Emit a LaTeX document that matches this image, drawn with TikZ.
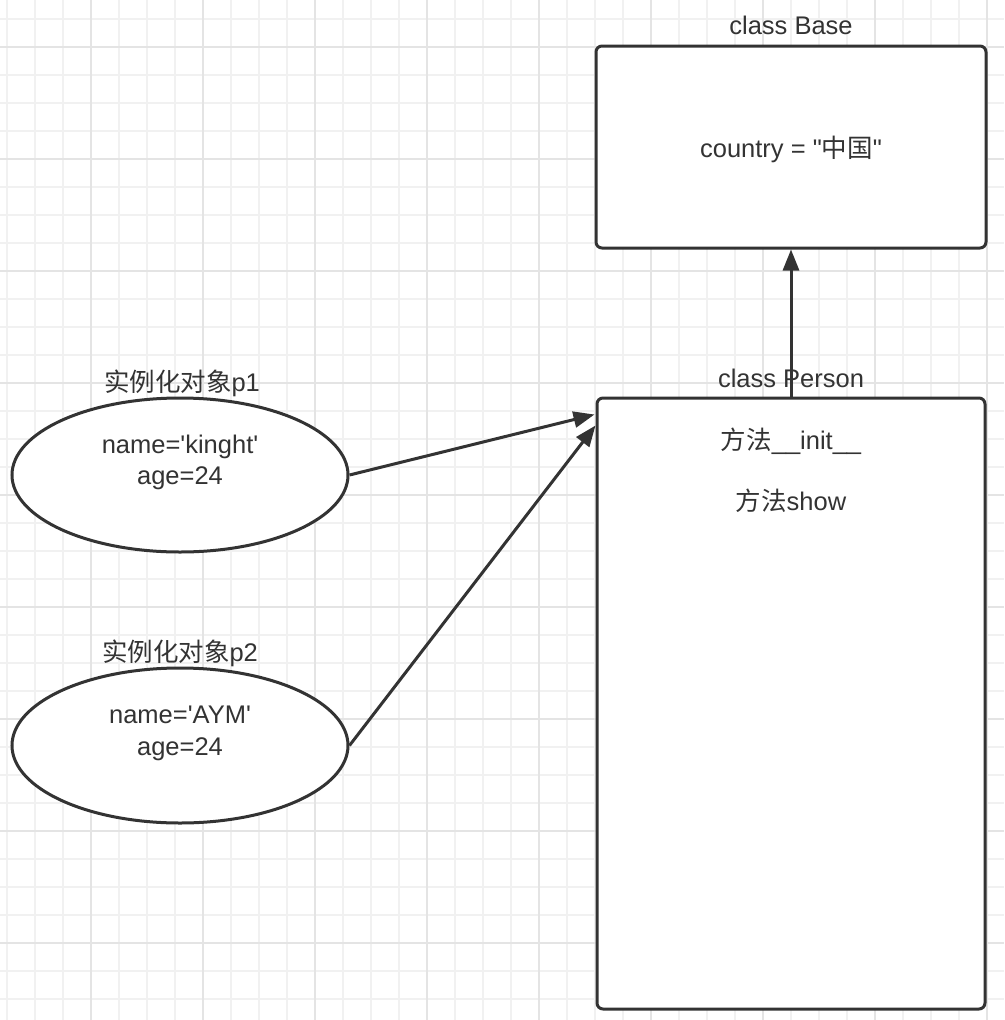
\documentclass[tikz,border=0pt]{standalone}
\usepackage{fontspec}
\newfontfamily\lat{Liberation Sans}
\newfontfamily\cjk{Noto Sans CJK SC}
\usetikzlibrary{arrows.meta,shapes.geometric,calc}
\definecolor{ink}{HTML}{333333}
\definecolor{gminor}{HTML}{F1F1F1}
\definecolor{gmajor}{HTML}{E4E4E4}
\begin{document}
\begin{tikzpicture}[x=1pt,y=-1pt,
  box/.style={draw=ink, line width=3pt, rounded corners=6pt, fill=white, inner sep=0pt},
  oval/.style={draw=ink, line width=3pt, ellipse, fill=white, inner sep=0pt},
  txt/.style={text=ink, anchor=base, inner sep=0pt, font=\lat\fontsize{25.5}{30}\selectfont},
  arr/.style={draw=ink, line width=3pt, -{Triangle[length=21pt,width=16pt]}},
  gmin/.style={draw=gminor, line width=1.6pt},
  gmaj/.style={draw=gmajor, line width=1.8pt}]
\fill[white] (0,0) rectangle (1004,1020);
\useasboundingbox (0,0) rectangle (1004,1020);
% grid
\foreach \i in {0,...,35} {
  \draw[gmin] ({6.7+28*\i},0) -- ({6.7+28*\i},1020);
  \draw[gmin] (0,{19+28*\i}) -- (1004,{19+28*\i});
}
\foreach \i in {0,...,8} {
  \draw[gmaj] ({90.7+112*\i},0) -- ({90.7+112*\i},1020);
  \draw[gmaj] (0,{46.7+112*\i}) -- (1004,{46.7+112*\i});
}
% boxes
\node[box, minimum width=390pt, minimum height=202pt] (base) at (791,147) {};
\node[box, minimum width=388pt, minimum height=611pt] (person) at (791,703.5) {};
\node[txt] (baselbl) at (791,34) {class Base};
\node[txt] (country) at (791,157) {country = "{\cjk 中国}"};
\node[txt] (personlbl) at (791,387) {class Person};
\node[txt] (init) at (791,449) {{\cjk 方法}\_\_init\_\_};
\node[txt] (show) at (791,510) {{\cjk 方法}show};
% ellipses
\node[oval, minimum width=336pt, minimum height=154pt] (p1) at (180,475) {};
\node[oval, minimum width=336pt, minimum height=155pt] (p2) at (180,745.5) {};
\node[txt] (p1lbl) at (182,391) {{\cjk 实例化对象}p1};
\node[txt] (p1name) at (180,453) {name='kinght'};
\node[txt] (p1age) at (180,484.5) {age=24};
\node[txt] (p2lbl) at (180,661) {{\cjk 实例化对象}p2};
\node[txt] (p2name) at (180,723.5) {name='AYM'};
\node[txt] (p2age) at (180,755) {age=24};
% connectors
\coordinate (t1) at ($(person.north west)+(-1,18)$);
\coordinate (t2) at ($(person.north west)+(0,29)$);
\draw[arr] (person.north) -- (base.south);
\draw[arr] (p1.east) -- (t1);
\draw[arr] (p2.east) -- (t2);
\end{tikzpicture}
\end{document}
